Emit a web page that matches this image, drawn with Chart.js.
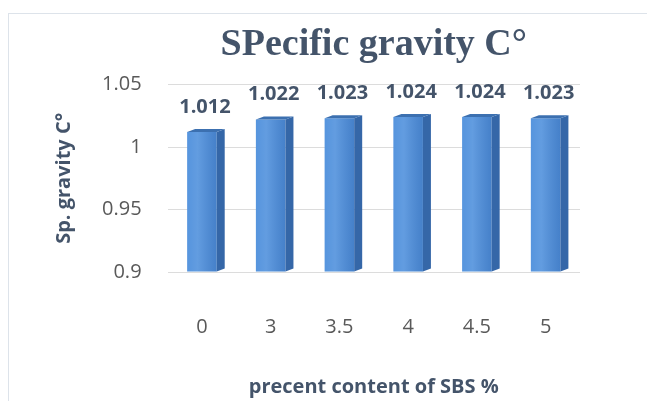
<!DOCTYPE html>
<html>
<head>
<meta charset="utf-8">
<script src="https://cdn.jsdelivr.net/npm/chart.js@4"></script>
<style>
  body { margin: 0; background: #fff; }
  #frame { position: absolute; left: 8px; top: 13px; width: 660px; height: 420px; border: 1px solid #dde3ea; }
  #wrap { position: absolute; left: 0; top: 0; width: 647px; height: 401px; }
</style>
</head>
<body>
<div id="frame"></div>
<div id="wrap"><canvas id="myChart" width="647" height="401"></canvas></div>
<script>
var categories = ['0', '3', '3.5', '4', '4.5', '5'];
var gravity = [1.012, 1.022, 1.023, 1.024, 1.024, 1.023];
var yTicks = [0.9, 0.95, 1, 1.05];

// fake 3D side/top faces + value labels, drawn from the bar elements
var bar3d = {
    id: 'bar3d',
    afterDatasetsDraw: function (chart) {
        var ctx = chart.ctx;
        var meta = chart.getDatasetMeta(0);
        var d = 8, dy = 3;
        meta.data.forEach(function (bar, i) {
            var l = bar.x - bar.width / 2, r = bar.x + bar.width / 2;
            ctx.save();
            // soft highlight on the front face
            var g = ctx.createLinearGradient(l, 0, r, 0);
            g.addColorStop(0, 'rgba(255,255,255,0.05)');
            g.addColorStop(0.35, 'rgba(255,255,255,0.12)');
            g.addColorStop(1, 'rgba(0,0,40,0.10)');
            ctx.fillStyle = g;
            ctx.fillRect(l, bar.y, r - l, bar.base - bar.y);
            ctx.fillStyle = '#3567a8';
            ctx.beginPath();
            ctx.moveTo(r, bar.y);
            ctx.lineTo(r + d, bar.y - dy);
            ctx.lineTo(r + d, bar.base - dy);
            ctx.lineTo(r, bar.base);
            ctx.closePath();
            ctx.fill();
            ctx.fillStyle = '#3c70b0';
            ctx.beginPath();
            ctx.moveTo(l, bar.y);
            ctx.lineTo(l + d, bar.y - dy);
            ctx.lineTo(r + d, bar.y - dy);
            ctx.lineTo(r, bar.y);
            ctx.closePath();
            ctx.fill();
            ctx.fillStyle = '#44546a';
            ctx.font = 'bold 20px "Open Sans"';
            ctx.textAlign = 'center';
            ctx.textBaseline = 'middle';
            ctx.fillText(gravity[i].toFixed(3), bar.x + 3, bar.y - 25);
            ctx.restore();
        });
    }
};

var ctx = document.getElementById('myChart').getContext('2d');
var myChart = new Chart(ctx, {
    type: 'bar',
    data: {
        labels: categories,
        datasets: [{
            label: 'Sp. gravity',
            data: gravity,
            base: yTicks[0],
            backgroundColor: '#4d8fdc',
            borderWidth: 0,
            barPercentage: 0.43,
            categoryPercentage: 1
        }]
    },
    options: {
        responsive: false,
        animation: false,
        layout: {
            padding: { top: 8, left: 44, right: 67, bottom: 0 }
        },
        plugins: {
            legend: { display: false },
            tooltip: { enabled: false },
            title: {
                display: true,
                fullSize: false,
                text: 'SPecific gravity C°',
                color: '#44546a',
                font: { family: '"Liberation Serif"', size: 38, weight: 'bold' },
                padding: { top: 14, bottom: 17 }
            }
        },
        scales: {
            x: {
                grid: { display: false },
                border: { display: false },
                ticks: {
                    color: '#595959',
                    font: { family: '"Open Sans"', size: 20 },
                    padding: 35.5,
                    maxRotation: 0
                },
                title: {
                    display: true,
                    text: 'precent content of SBS %',
                    color: '#44546a',
                    font: { family: '"Open Sans"', size: 20, weight: 'bold' },
                    padding: { top: 0, bottom: 2 }
                }
            },
            y: {
                min: 0.9,
                max: 1.05,
                afterBuildTicks: function (axis) {
                    axis.ticks = yTicks.map(function (v) { return { value: v }; });
                },
                grid: { color: '#dcdcdc', drawTicks: false },
                border: { display: false },
                ticks: {
                    color: '#595959',
                    font: { family: '"Open Sans"', size: 20 },
                    padding: 26,
                    callback: function (v) { return String(Math.round(v * 100) / 100); }
                },
                title: {
                    display: true,
                    text: 'Sp. gravity C°',
                    color: '#44546a',
                    font: { family: '"Open Sans"', size: 20, weight: 'bold' },
                    padding: { top: 8, bottom: 0 }
                }
            }
        }
    },
    plugins: [bar3d]
});
</script>
</body>
</html>
